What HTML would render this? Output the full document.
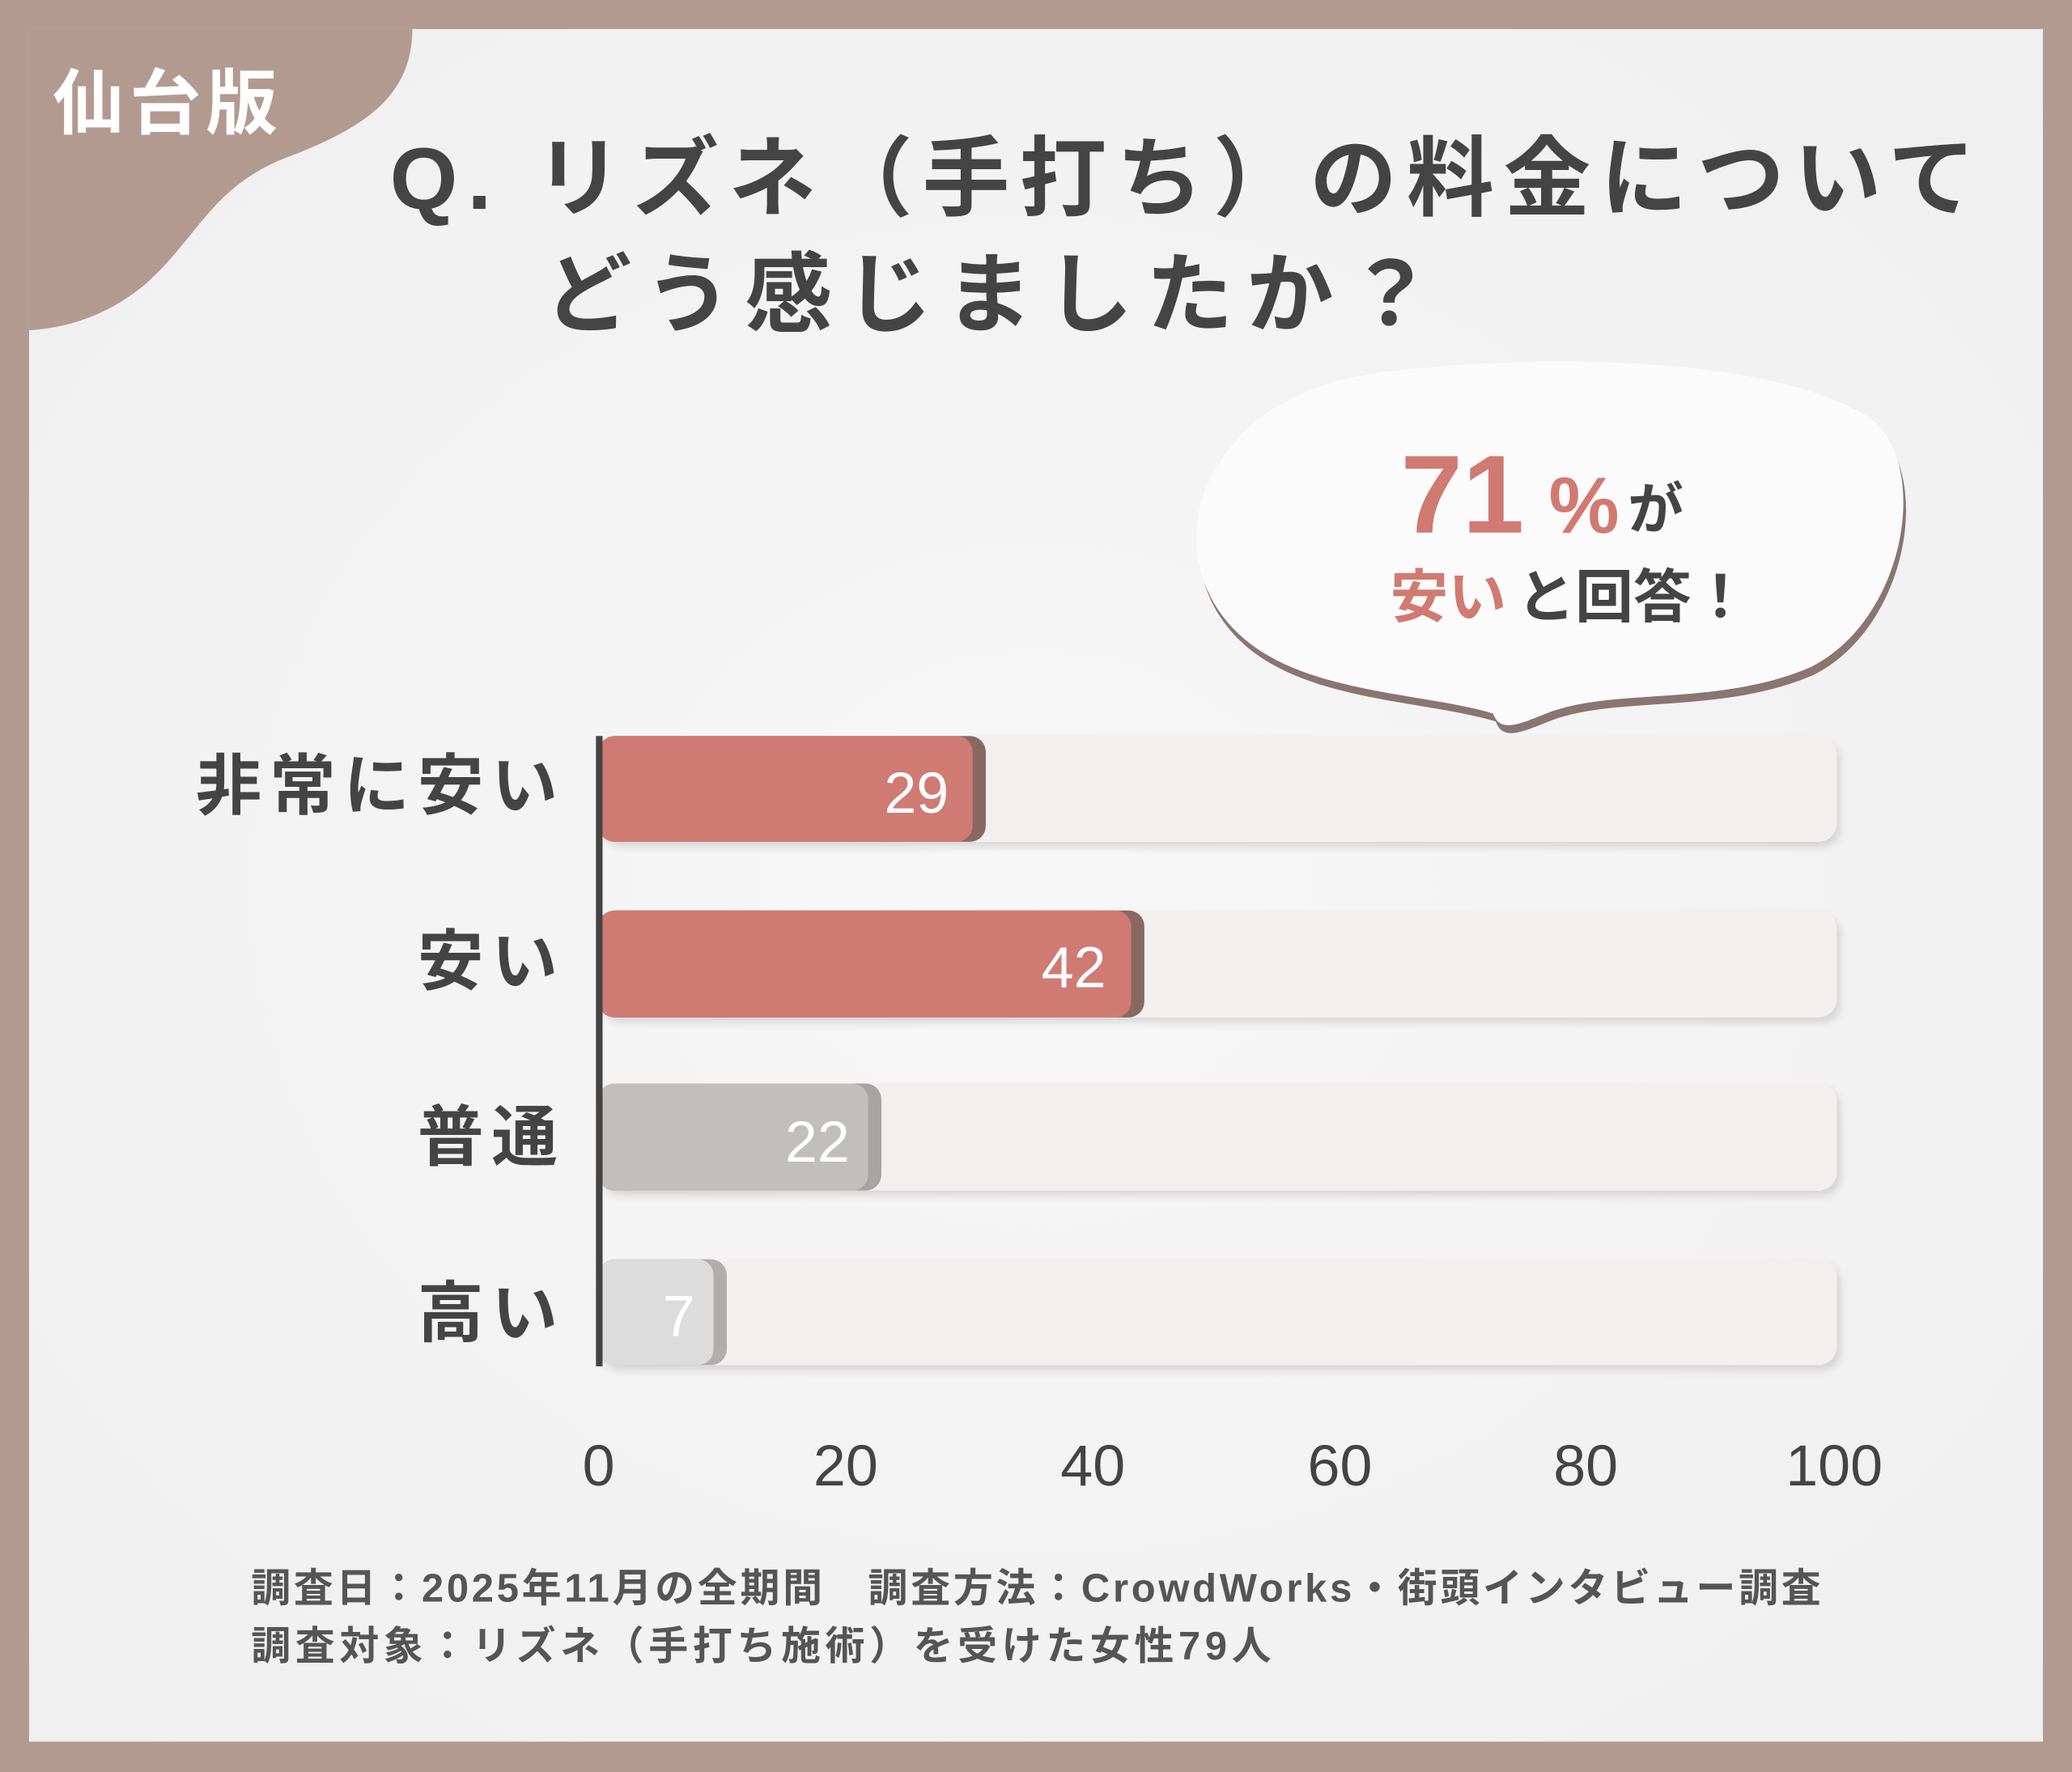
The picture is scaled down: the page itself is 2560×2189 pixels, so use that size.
<!DOCTYPE html>
<html><head><meta charset="utf-8"><style>
html,body{margin:0;padding:0;background:#b39a91;}
svg{display:block;}
text{font-family:"Liberation Sans","Noto Sans CJK JP",sans-serif;}
</style></head><body>
<svg width="2560" height="2189" viewBox="0 0 1568 1341" preserveAspectRatio="none" xmlns="http://www.w3.org/2000/svg">
<defs>
<radialGradient id="bg" cx="0.5" cy="0.5" r="0.7">
<stop offset="0" stop-color="#f7f7f7"/><stop offset="1" stop-color="#efefef"/>
</radialGradient>
<filter id="sh" x="-10%" y="-10%" width="130%" height="140%"><feDropShadow dx="3" dy="4" stdDeviation="3" flood-color="#000" flood-opacity="0.12"/></filter>
</defs>
<rect x="0" y="0" width="1568" height="1341" fill="#b39a91"/>
<rect x="22" y="22" width="1524" height="1296" fill="url(#bg)"/>
<path d="M22 22 H312 C312 70 280 95 220 118 C160 140 150 180 110 215 C80 240 50 248 22 250 Z" fill="#b39a91"/>
<text x="40" y="97" font-size="54" font-weight="bold" fill="#fff" letter-spacing="4">仙台版</text>
<text x="295" y="158" font-size="66" font-weight="bold" fill="#444" textLength="1200" lengthAdjust="spacing">Q. リズネ（手打ち）の料金について</text>
<text x="412" y="246" font-size="66" font-weight="bold" fill="#444" textLength="673" lengthAdjust="spacing">どう感じましたか？</text>
<path d="M1060 280 C1200 265 1360 275 1420 320 C1460 360 1440 470 1370 505 C1300 535 1220 520 1170 540 C1150 548 1135 555 1130 540 C1080 525 1000 525 950 490 C900 455 890 390 930 340 C960 300 1010 285 1060 280 Z" fill="#8a7570" transform="translate(2,6)"/>
<path d="M1060 280 C1200 265 1360 275 1420 320 C1460 360 1440 470 1370 505 C1300 535 1220 520 1170 540 C1150 548 1135 555 1130 540 C1080 525 1000 525 950 490 C900 455 890 390 930 340 C960 300 1010 285 1060 280 Z" fill="#fbfbfb"/>
<text x="1060" y="403" font-size="84" font-weight="bold" fill="#d07a72">71</text>
<text x="1172" y="403" font-size="60" font-weight="bold" fill="#d07a72">%</text>
<text x="1232" y="400" font-size="42" font-weight="bold" fill="#444">が</text>
<text x="1052" y="467" font-size="44" font-weight="bold" fill="#d07a72">安い</text>
<text x="1148" y="467" font-size="44" font-weight="bold" fill="#444">と回答！</text>
<circle cx="1085" cy="578" r="15" fill="#8a7570"/><circle cx="1085" cy="575" r="14" fill="#fbfbfb"/>
<circle cx="1053" cy="594" r="7" fill="#8a7570"/><circle cx="1053" cy="592" r="6" fill="#fbfbfb"/>
<g filter="url(#sh)" fill="#f3efee">
<rect x="453" y="557" width="937" height="80" rx="14"/>
<rect x="453" y="689" width="937" height="81" rx="14"/>
<rect x="453" y="820" width="937" height="81" rx="14"/>
<rect x="453" y="953" width="937" height="80" rx="14"/>
</g>
<rect x="453" y="557" width="293" height="80" rx="12" fill="#8a6862"/>
<rect x="453" y="557" width="283" height="80" rx="12" fill="#d07a74"/>
<rect x="453" y="689" width="413" height="81" rx="12" fill="#8a6862"/>
<rect x="453" y="689" width="403" height="81" rx="12" fill="#d07a74"/>
<rect x="453" y="820" width="214" height="81" rx="12" fill="#a8a4a2"/>
<rect x="453" y="820" width="204" height="81" rx="12" fill="#c2bebc"/>
<rect x="453" y="953" width="97" height="80" rx="12" fill="#b0adab"/>
<rect x="453" y="953" width="87" height="80" rx="12" fill="#dcdcdc"/>
<rect x="451" y="557" width="5" height="477" fill="#444"/>
<g font-size="44" fill="#fff" text-anchor="end">
<text x="718" y="615">29</text>
<text x="837" y="747">42</text>
<text x="643" y="879">22</text>
<text x="526" y="1011">7</text>
</g>
<g font-size="50" font-weight="bold" fill="#444" text-anchor="end" letter-spacing="6">
<text x="428" y="612">非常に安い</text>
<text x="428" y="745">安い</text>
<text x="428" y="878">普通</text>
<text x="428" y="1011">高い</text>
</g>
<g font-size="44" fill="#444" text-anchor="middle">
<text x="453" y="1124">0</text>
<text x="640" y="1124">20</text>
<text x="827" y="1124">40</text>
<text x="1014" y="1124">60</text>
<text x="1200" y="1124">80</text>
<text x="1388" y="1124">100</text>
</g>
<g font-size="30" font-weight="bold" fill="#555">
<text x="190" y="1212" textLength="1188" lengthAdjust="spacing">調査日：2025年11月の全期間　調査方法：CrowdWorks・街頭インタビュー調査</text>
<text x="190" y="1256" textLength="772" lengthAdjust="spacing">調査対象：リズネ（手打ち施術）を受けた女性79人</text>
</g>
</svg>
</body></html>
